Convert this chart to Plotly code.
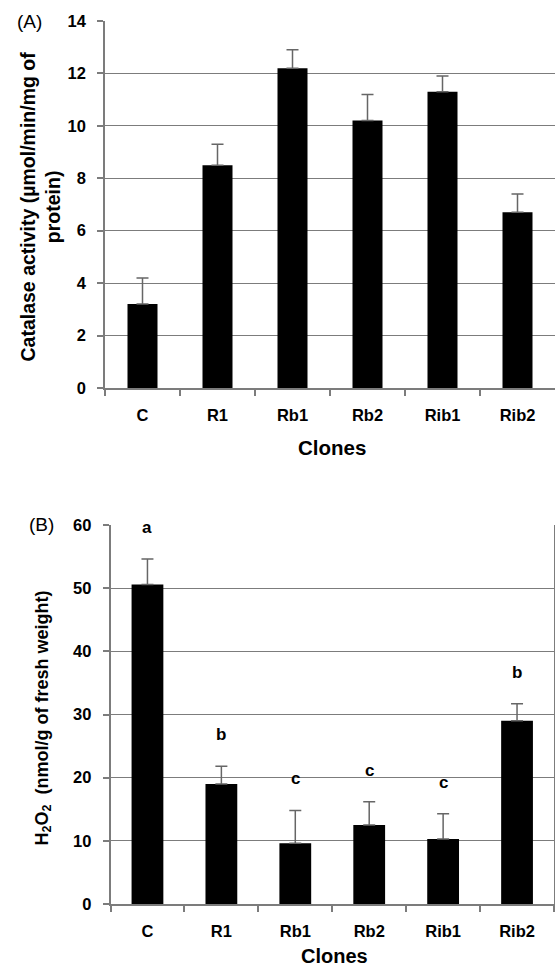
import plotly.graph_objects as go

clones = ["C", "R1", "Rb1", "Rb2", "Rib1", "Rib2"]
catalase = [3.2, 8.5, 12.2, 10.2, 11.3, 6.7]
catalase_err = [1.0, 0.8, 0.7, 1.0, 0.6, 0.7]
h2o2 = [50.6, 19.0, 9.6, 12.5, 10.3, 29.0]
h2o2_err = [4.0, 2.8, 5.2, 3.7, 4.0, 2.7]
letters = ["a", "b", "c", "c", "c", "b"]

W, H = 555, 969
FONT = "Liberation Sans, Arial, sans-serif"
GRID = "#7c7c7c"
ERR = "#666666"

def px_x(p):
    return p / W

def px_y(p):
    return 1 - p / H

fig = go.Figure()

fig.add_trace(go.Bar(
    x=clones, y=catalase, width=0.4, marker=dict(color="black", line=dict(width=0)),
    error_y=dict(type="data", array=catalase_err, symmetric=False, arrayminus=[0]*6,
                 color=ERR, thickness=1.5, width=6),
    xaxis="x", yaxis="y", showlegend=False, hoverinfo="skip"))

fig.add_trace(go.Bar(
    x=clones, y=h2o2, width=0.43, marker=dict(color="black", line=dict(width=0)),
    error_y=dict(type="data", array=h2o2_err, symmetric=False, arrayminus=[0]*6,
                 color=ERR, thickness=1.5, width=6),
    xaxis="x2", yaxis="y2", showlegend=False, hoverinfo="skip"))

tickfont = dict(family=FONT, size=16.5, color="black", weight="bold")
xcommon = dict(type="category", range=[-0.5, 5.5], showgrid=False, showline=True,
               linecolor=GRID, linewidth=1.5, ticks="outside", tickson="boundaries",
               ticklen=6, tickcolor=GRID, tickwidth=1.5, tickfont=tickfont,
               ticklabelstandoff=11, zeroline=False, automargin=False)
ycommon = dict(showgrid=True, gridcolor=GRID, gridwidth=1.4, showline=True,
               linecolor=GRID, linewidth=1.5, ticks="outside", ticklen=6,
               tickcolor=GRID, tickwidth=1.5, tickfont=tickfont, ticklabelstandoff=8,
               zeroline=False, automargin=False)

A_TOP, A_BOT, A_L, A_R = 21, 388, 105, 555
B_TOP, B_BOT, B_L, B_R = 525, 904, 110.5, 554

fig.update_layout(
    width=W, height=H, margin=dict(l=0, r=0, t=0, b=0, autoexpand=False),
    paper_bgcolor="white", plot_bgcolor="white",
    xaxis=dict(xcommon, domain=[px_x(A_L), px_x(A_R)], anchor="y"),
    yaxis=dict(ycommon, domain=[px_y(A_BOT), px_y(A_TOP)], range=[0, 14], dtick=2, anchor="x"),
    xaxis2=dict(xcommon, domain=[px_x(B_L), px_x(B_R)], anchor="y2"),
    yaxis2=dict(ycommon, domain=[px_y(B_BOT), px_y(B_TOP)], range=[0, 60], dtick=10, anchor="x2",
                mirror=True),
)

ann_font = lambda s: dict(family=FONT, size=s, color="black")
annotations = [
    dict(text="(A)", x=px_x(29), y=px_y(22), xref="paper", yref="paper", showarrow=False,
         font=ann_font(19), xanchor="center", yanchor="middle"),
    dict(text="(B)", x=px_x(41), y=px_y(524), xref="paper", yref="paper", showarrow=False,
         font=ann_font(19), xanchor="center", yanchor="middle"),
    dict(text="<b>Catalase activity (µmol/min/mg of<br>protein)</b>", x=px_x(40), y=px_y((A_TOP + A_BOT) / 2 + 2),
         xref="paper", yref="paper", showarrow=False, textangle=-90,
         font=ann_font(19.5), xanchor="center", yanchor="middle"),
    dict(text="<b>H<sub>2</sub>O<sub>2</sub>  (nmol/g of fresh weight)</b>", x=px_x(43), y=px_y((B_TOP + B_BOT) / 2 + 4),
         xref="paper", yref="paper", showarrow=False, textangle=-90,
         font=ann_font(18), xanchor="center", yanchor="middle"),
    dict(text="<b>Clones</b>", x=px_x((A_L + A_R) / 2 + 2), y=px_y(A_BOT + 59), xref="paper", yref="paper",
         showarrow=False, font=ann_font(20.5), xanchor="center", yanchor="middle"),
    dict(text="<b>Clones</b>", x=px_x((B_L + B_R) / 2 + 2), y=px_y(B_BOT + 52), xref="paper", yref="paper",
         showarrow=False, font=ann_font(20), xanchor="center", yanchor="middle"),
]
for c, v, e, l in zip(clones, h2o2, h2o2_err, letters):
    annotations.append(dict(text="<b>%s</b>" % l, x=c, y=v + e + 5, xref="x2", yref="y2",
                            showarrow=False, font=ann_font(17), xanchor="center", yanchor="middle"))
fig.update_layout(annotations=annotations)

fig.write_html("out.html", config={"displayModeBar": False},
               post_script="document.body.style.margin='0';document.body.style.overflow='hidden';")
